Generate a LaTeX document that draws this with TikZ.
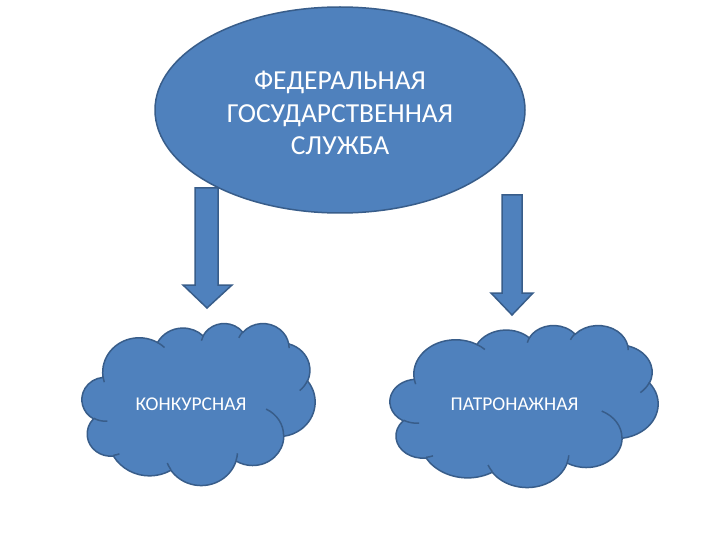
\documentclass[tikz,border=0pt]{standalone}
\usepackage{fontspec}
\setmainfont{Carlito}
\usepackage{tikz}
\usetikzlibrary{shapes.geometric}
\definecolor{ppfill}{HTML}{4F81BD}
\definecolor{ppline}{HTML}{385D8A}
\tikzstyle{service}    = [ellipse, draw=ppline, line width=1.5pt, fill=ppfill, minimum width=370pt, minimum height=206pt, inner sep=0pt]
\tikzstyle{servicetext} = [text=white, align=center, font=\fontsize{27.5}{32.5}\selectfont]
\tikzstyle{kindtext}   = [text=white, font=\fontsize{19.5}{24}\selectfont]
\tikzstyle{blockarrow} = [draw=ppline, line width=1.5pt, fill=ppfill, line join=miter]
\tikzstyle{puffline}   = [draw=ppline, line width=1.5pt]
% cloud outline in a 432 x 432 box, origin top left
\tikzset{pics/kindcloud/.style={code={
    \filldraw[puffline, fill=ppfill] (39,143.7)
        arc[start angle=172.26, delta angle=128.13, x radius=67.53, y radius=91.90]
        arc[start angle=-152.02, delta angle=106.56, x radius=53.33, y radius=72.67]
        arc[start angle=-153.50, delta angle=116.20, x radius=43.65, y radius=59.45]
        arc[start angle=-139.80, delta angle=129.63, x radius=48.57, y radius=65.95]
        arc[start angle=-74.78, delta angle=98.01, x radius=53.33, y radius=72.73]
        arc[start angle=-37.49, delta angle=119.34, x radius=67.75, y radius=92.20]
        arc[start angle=0.46, delta angle=121.57, x radius=57.85, y radius=78.67]
        arc[start angle=16.87, delta angle=129.30, x radius=67.52, y radius=92.15]
        arc[start angle=59.05, delta angle=91.09, x radius=77.20, y radius=105.43]
        arc[start angle=83.29, delta angle=139.72, x radius=43.60, y radius=59.18]
        arc[start angle=120.25, delta angle=143.88, x radius=43.45, y radius=59.45]
        -- cycle;
    \draw[puffline] (46.93,261.77) arc[start angle=85.57, delta angle=34.70, x radius=43.45, y radius=59.45];
    \draw[puffline] (69.28,348.99) arc[start angle=68.23, delta angle=15.06, x radius=43.60, y radius=59.18];
    \draw[puffline] (164.78,390.90) arc[start angle=146.17, delta angle=12.30, x radius=67.52, y radius=92.15];
    \draw[puffline] (288.27,347.51) arc[start angle=4.74, delta angle=12.13, x radius=67.52, y radius=92.15];
    \draw[puffline] (341.29,229.54) arc[start angle=-64.03, delta angle=64.49, x radius=57.85, y radius=78.67];
    \draw[puffline] (417.98,153.54) arc[start angle=23.23, delta angle=26.40, x radius=53.33, y radius=72.73];
    \draw[puffline] (383.24,54.26) arc[start angle=-10.17, delta angle=10.99, x radius=48.57, y radius=65.95];
    \draw[puffline] (290.78,39.52) arc[start angle=-156.29, delta angle=16.49, x radius=48.57, y radius=65.95];
    \draw[puffline] (221.41,47.20) arc[start angle=-167.73, delta angle=14.23, x radius=43.65, y radius=59.45];
    \draw[puffline] (140.00,51.92) arc[start angle=-59.61, delta angle=13.87, x radius=67.53, y radius=91.90];
    \draw[puffline] (41.27,157.89) arc[start angle=163.19, delta angle=9.07, x radius=67.53, y radius=91.90];
}}}

\begin{document}
\begin{tikzpicture}[x=1pt, y=-1pt]
    \useasboundingbox (0,0) rectangle (720,540);
    \fill[white] (0,0) rectangle (720,540);

    \node[service] (fgs) at (340,110) {};
    \node[servicetext] (fgstext) at (340,113) {ФЕДЕРАЛЬНАЯ\\ГОСУДАРСТВЕННАЯ\\СЛУЖБА};

    \pic[xscale=0.5394, yscale=0.375] (konk) at (82,323) {kindcloud};
    \pic[xscale=0.6204, yscale=0.375] (patr) at (390,325) {kindcloud};
    \node[kindtext] (konktext) at (191,404) {КОНКУРСНАЯ};
    \node[kindtext] (patrtext) at (514.5,404) {ПАТРОНАЖНАЯ};

    % block arrows from the service to each kind
    \draw[blockarrow] (195,188) -- (218,188) -- (218,285) -- (232,285) -- (207,308) -- (183,285) -- (195,285) -- cycle;
    \draw[blockarrow] (502,195) -- (522,195) -- (522,293) -- (533,293) -- (512,315) -- (491,293) -- (502,293) -- cycle;
\end{tikzpicture}
\end{document}
